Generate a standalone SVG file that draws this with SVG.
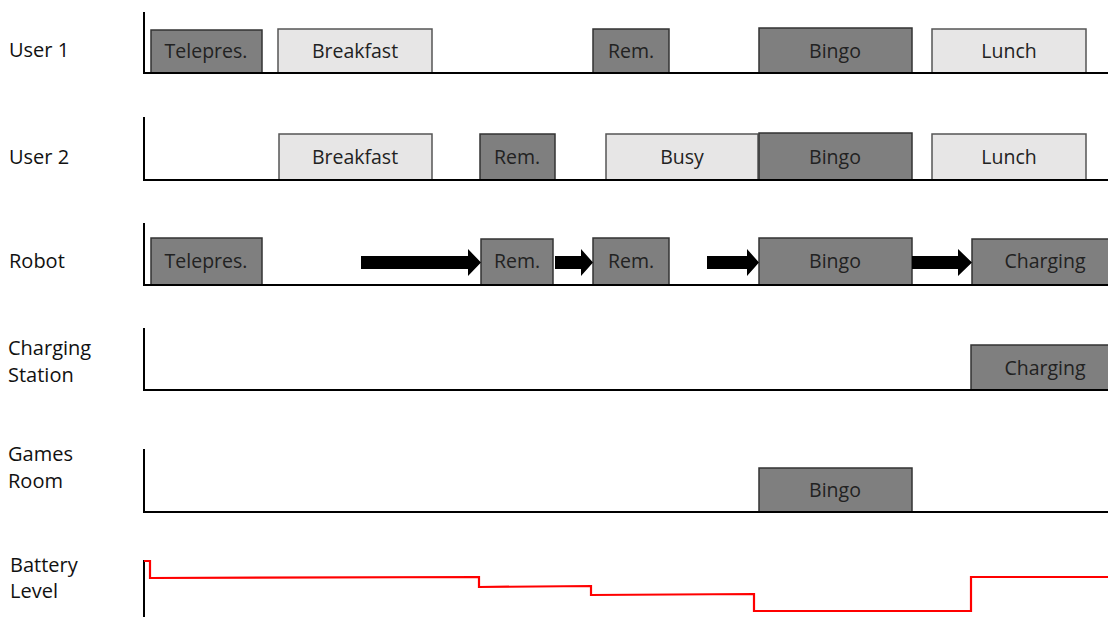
<svg xmlns="http://www.w3.org/2000/svg" width="1108" height="617" viewBox="0 0 1108 617">
<style>
.axis{fill:none;stroke:#000;stroke-width:2}
.dk{fill:#7f7f7f;stroke:#333;stroke-width:1.5}
.lt{fill:#e7e6e6;stroke:#555;stroke-width:1.5}
.bt{font-family:"Open Sans","Liberation Sans",sans-serif;font-size:19.5px;fill:#222;text-anchor:middle}
.lb{font-family:"Open Sans","Liberation Sans",sans-serif;font-size:20px;fill:#111}
.arr{fill:#000}
.bat{fill:none;stroke:#f00;stroke-width:2.2}
</style>
<g id="labels">
<text class="lb" x="9" y="57">User 1</text>
<text class="lb" x="9" y="164">User 2</text>
<text class="lb" x="9" y="268">Robot</text>
<text class="lb" x="8" y="355">Charging</text>
<text class="lb" x="8" y="382">Station</text>
<text class="lb" x="8" y="461">Games</text>
<text class="lb" x="8" y="488">Room</text>
<text class="lb" x="10" y="572">Battery</text>
<text class="lb" x="10" y="598">Level</text>
</g>
<g id="user1">
<rect class="dk" x="151" y="30" width="111" height="43"/><text class="bt" x="206" y="58">Telepres.</text>
<rect class="lt" x="278" y="29" width="154" height="44"/><text class="bt" x="355" y="58">Breakfast</text>
<rect class="dk" x="593" y="29" width="76" height="44"/><text class="bt" x="631" y="58">Rem.</text>
<rect class="dk" x="759" y="28" width="153" height="45"/><text class="bt" x="835" y="58">Bingo</text>
<rect class="lt" x="932" y="29" width="154" height="44"/><text class="bt" x="1009" y="58">Lunch</text>
<path class="axis" d="M144,12 V73 H1108"/>
</g>
<g id="user2">
<rect class="lt" x="279" y="134" width="153" height="46"/><text class="bt" x="355" y="164">Breakfast</text>
<rect class="dk" x="480" y="134" width="75" height="46"/><text class="bt" x="517" y="164">Rem.</text>
<rect class="lt" x="606" y="134" width="152" height="46"/><text class="bt" x="682" y="164">Busy</text>
<rect class="dk" x="759" y="133" width="153" height="47"/><text class="bt" x="835" y="164">Bingo</text>
<rect class="lt" x="932" y="134" width="154" height="46"/><text class="bt" x="1009" y="164">Lunch</text>
<path class="axis" d="M144,117 V180 H1108"/>
</g>
<g id="robot">
<rect class="dk" x="151" y="238" width="111" height="47"/><text class="bt" x="206" y="268">Telepres.</text>
<rect class="dk" x="481" y="239" width="72" height="46"/><text class="bt" x="517" y="268">Rem.</text>
<rect class="dk" x="593" y="238" width="76" height="47"/><text class="bt" x="631" y="268">Rem.</text>
<rect class="dk" x="759" y="238" width="153" height="47"/><text class="bt" x="835" y="268">Bingo</text>
<rect class="dk" x="972" y="239" width="137" height="46"/><text class="bt" x="1045" y="268">Charging</text>
<path class="axis" d="M144,223 V285 H1108"/>
</g>
<g id="charging-station">
<rect class="dk" x="971" y="345" width="138" height="45"/><text class="bt" x="1045" y="375">Charging</text>
<path class="axis" d="M144,328 V390 H1108"/>
</g>
<g id="games-room">
<rect class="dk" x="759" y="468" width="153" height="44"/><text class="bt" x="835" y="497">Bingo</text>
<path class="axis" d="M144,449 V512 H1108"/>
</g>
<g id="battery">
<path class="axis" d="M144,560 V617"/>
<path class="bat" d="M144,561 H150 V578 L479,577 V587 L591,586 V595 L754,594 V611 H971 V577 H1108"/>
</g>
<g id="connectors">
<path class="arr" d="M361,256 H468 V249 L481,262.5 L468,276 V269 H361 Z"/>
<path class="arr" d="M555,256 H581 V249 L593,262.5 L581,276 V269 H555 Z"/>
<path class="arr" d="M707,256 H747 V249 L759,262.5 L747,276 V269 H707 Z"/>
<path class="arr" d="M912,256 H958 V249 L972,262.5 L958,276 V269 H912 Z"/>
</g>
</svg>
